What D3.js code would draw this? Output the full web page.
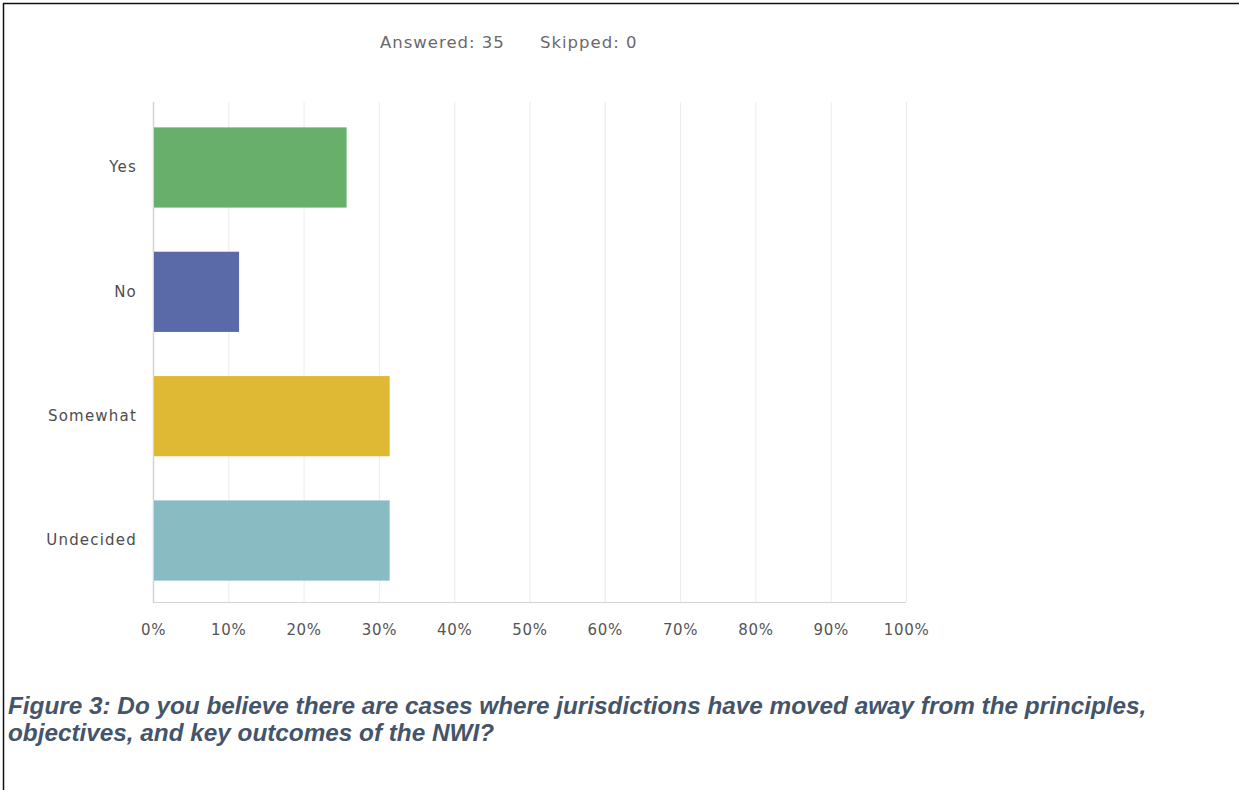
<!DOCTYPE html>
<html>
<head>
<meta charset="utf-8">
<script src="https://cdn.jsdelivr.net/npm/d3@7"></script>
<style>
  html, body { margin: 0; padding: 0; background: #fff; }
  svg { display: block; }
</style>
</head>
<body>
<svg id="chart" width="1239" height="790"></svg>
<script>
// Survey responses (percent of 35 respondents)
const categories = ["Yes", "No", "Somewhat", "Undecided"];
const values = [25.71, 11.43, 31.43, 31.43];
const colors = ["#67af6a", "#5a6aa8", "#dfb934", "#89bbc3"];
const tickValues = [0, 10, 20, 30, 40, 50, 60, 70, 80, 90, 100];
const headerText = ["Answered: 35", "Skipped: 0"];
const captionLines = [
  "Figure 3: Do you believe there are cases where jurisdictions have moved away from the principles,",
  "objectives, and key outcomes of the NWI?"
];

const uiFont = "'DejaVu Sans', Verdana, sans-serif";
const svg = d3.select("#chart");

// Frame lines (top and left)
svg.append("line").attr("x1", 3).attr("x2", 1239).attr("y1", 3.5).attr("y2", 3.5)
  .attr("stroke", "#111").attr("stroke-width", 1.5);
svg.append("line").attr("x1", 3.5).attr("x2", 3.5).attr("y1", 3).attr("y2", 790)
  .attr("stroke", "#111").attr("stroke-width", 1.5);

const x = d3.scaleLinear().domain([0, 100]).range([153, 906]);
const y = d3.scaleBand().domain(categories).range([105, 603]).paddingInner(0.355).paddingOuter(0.18);

// Vertical gridlines
svg.append("g")
  .selectAll("line")
  .data(tickValues)
  .join("line")
  .attr("x1", d => x(d) + 0.5).attr("x2", d => x(d) + 0.5)
  .attr("y1", 102).attr("y2", 602)
  .attr("stroke", d => d === 0 ? "#d4d4d4" : "#ececec")
  .attr("stroke-width", d => d === 0 ? 1.5 : 1);

// Baseline
svg.append("line")
  .attr("x1", x(0)).attr("x2", x(100))
  .attr("y1", 602.5).attr("y2", 602.5)
  .attr("stroke", "#d4d4d4").attr("stroke-width", 1.2);

// Bars
svg.append("g")
  .selectAll("rect")
  .data(categories)
  .join("rect")
  .attr("x", x(0) + 1)
  .attr("y", d => y(d))
  .attr("width", (d, i) => x(values[i]) - x(0) - 1)
  .attr("height", y.bandwidth())
  .attr("fill", (d, i) => colors[i]);

// Category labels
const yAxis = d3.axisLeft(y).tickSize(0).tickPadding(0);
const gy = svg.append("g").attr("transform", "translate(137,0)").call(yAxis);
gy.select(".domain").remove();
gy.selectAll("text")
  .attr("font-family", uiFont)
  .attr("font-size", 15)
  .attr("letter-spacing", 1.2)
  .attr("fill", "#4d4d4d");

// Percent tick labels
const xAxis = d3.axisBottom(x).tickValues(tickValues).tickFormat(d => d + "%").tickSize(0).tickPadding(0);
const gx = svg.append("g").attr("transform", "translate(0,624)").call(xAxis);
gx.select(".domain").remove();
gx.selectAll("text")
  .attr("font-family", uiFont)
  .attr("font-size", 15)
  .attr("letter-spacing", 0.7)
  .attr("fill", "#555");

// Header counts
svg.append("text")
  .attr("x", 380).attr("y", 48)
  .attr("font-family", uiFont)
  .attr("font-size", 16.5)
  .attr("letter-spacing", 1)
  .attr("fill", "#6a6a6a")
  .text(headerText[0]);
svg.append("text")
  .attr("x", 540).attr("y", 48)
  .attr("font-family", uiFont)
  .attr("font-size", 16.5)
  .attr("letter-spacing", 1)
  .attr("fill", "#6a6a6a")
  .text(headerText[1]);

// Caption
svg.append("g")
  .selectAll("text")
  .data(captionLines)
  .join("text")
  .attr("x", 8)
  .attr("y", (d, i) => 714 + i * 27)
  .attr("font-family", "'Liberation Sans', Arial, sans-serif")
  .attr("font-size", 24.3)
  .attr("font-weight", "bold")
  .attr("font-style", "italic")
  .attr("fill", "#44546a")
  .text(d => d);
</script>
</body>
</html>
